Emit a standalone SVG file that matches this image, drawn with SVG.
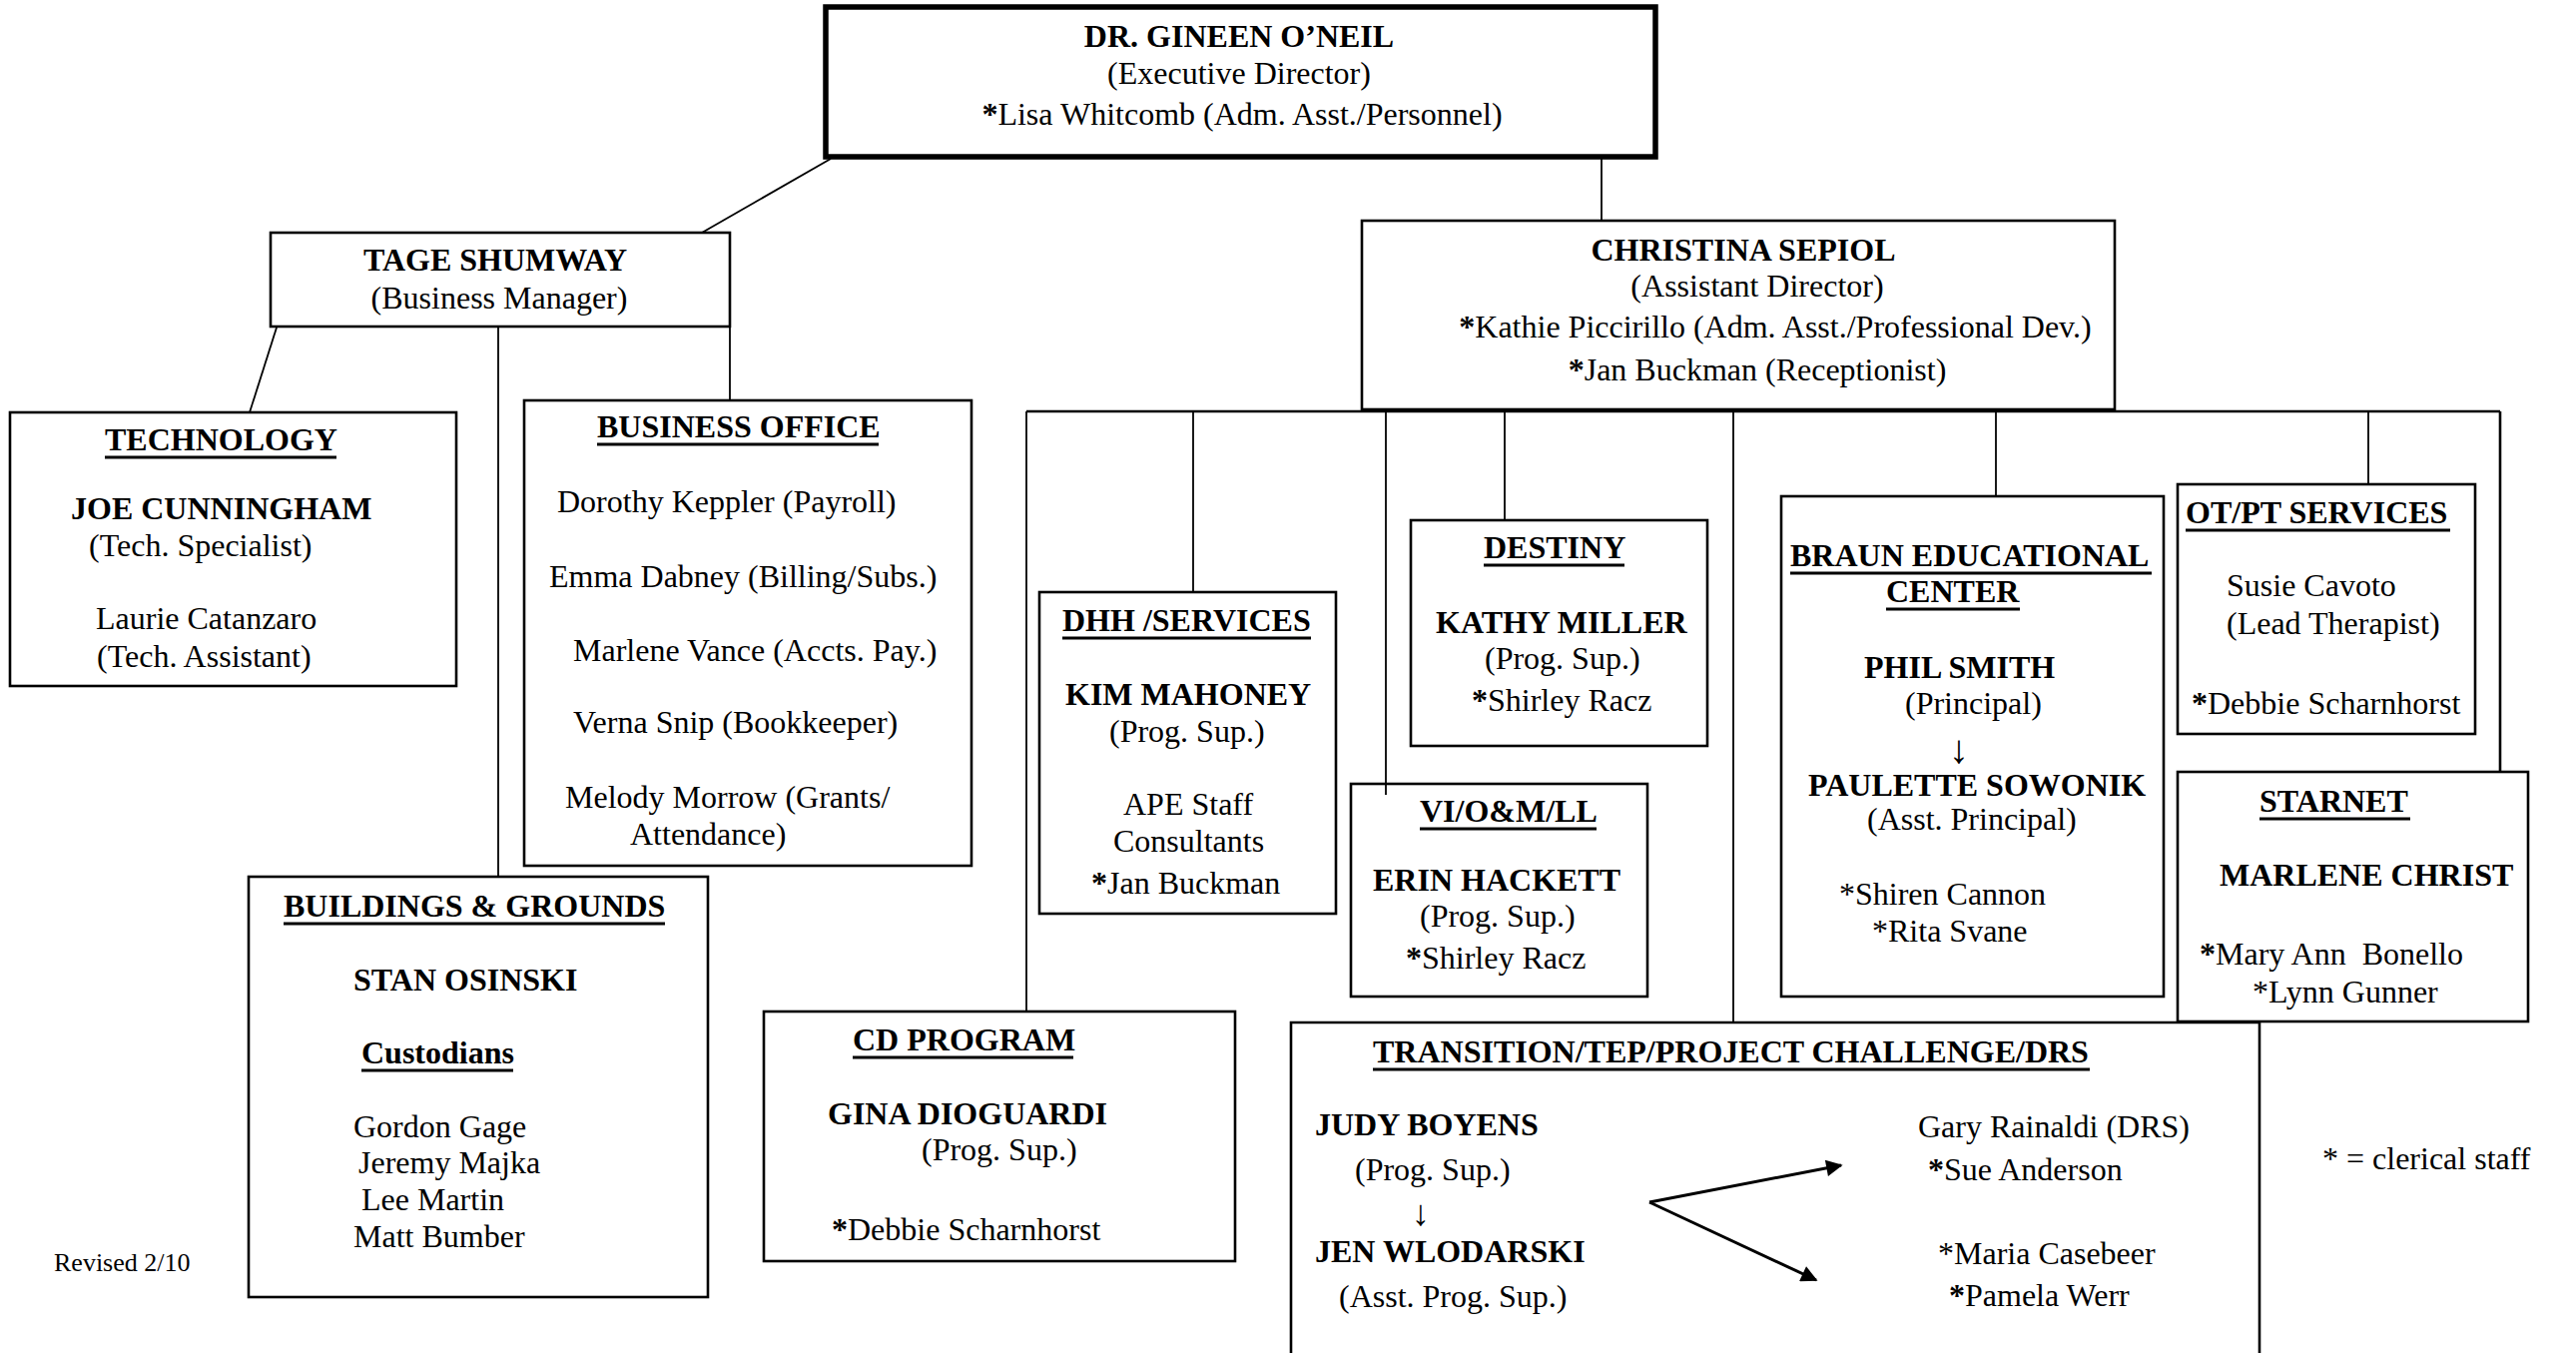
<svg xmlns="http://www.w3.org/2000/svg" width="2580" height="1355" viewBox="0 0 2580 1355">
<style>
.box{fill:none;stroke:#000;stroke-width:2.6}
.top{fill:none;stroke:#000;stroke-width:5.5}
.ln{fill:none;stroke:#000;stroke-width:1.8}
.ar{fill:none;stroke:#000;stroke-width:3}
.ul{stroke:#000;stroke-width:3}
text{font-family:"Liberation Serif","Times New Roman",serif;font-size:32px;fill:#000}
.b{font-weight:bold}
.c{text-anchor:middle}
.sm{font-size:26px}
.dn{font-size:40px}
.dn2{font-size:36px}
</style>
<defs>
<marker id="ah" viewBox="0 0 10 10" refX="9" refY="5" markerWidth="8" markerHeight="5.5" orient="auto" markerUnits="strokeWidth">
<path d="M0,0 L10,5 L0,10 z" fill="#000"/>
</marker>
</defs>
<rect width="2580" height="1355" fill="#fff"/>

<g id="connectors">
<line class="ln" x1="832" y1="159" x2="703" y2="233"/>
<line class="ln" x1="1604" y1="157" x2="1604" y2="221"/>
<line class="ln" x1="277" y1="328" x2="250" y2="413"/>
<line class="ln" x1="499" y1="327" x2="499" y2="878"/>
<line class="ln" x1="731" y1="327" x2="731" y2="401"/>
<line class="box" x1="1028" y1="412" x2="2504" y2="412"/>
<line class="ln" x1="1028" y1="412" x2="1028" y2="1013"/>
<line class="ln" x1="1195" y1="412" x2="1195" y2="593"/>
<line class="ln" x1="1388" y1="412" x2="1388" y2="796"/>
<line class="ln" x1="1507" y1="412" x2="1507" y2="521"/>
<line class="ln" x1="1736" y1="412" x2="1736" y2="1024"/>
<line class="ln" x1="1999" y1="412" x2="1999" y2="497"/>
<line class="ln" x1="2372" y1="412" x2="2372" y2="485"/>
<line class="box" x1="2504" y1="412" x2="2504" y2="773"/>
<line class="ar" x1="1652" y1="1204" x2="1844" y2="1167" marker-end="url(#ah)"/>
<line class="ar" x1="1652" y1="1204" x2="1819" y2="1282" marker-end="url(#ah)"/>
</g>

<g id="exec">
<rect class="top" x="827" y="7" width="831" height="150"/>
<text class="b c" x="1241" y="47">DR. GINEEN O’NEIL</text>
<text class="c" x="1241" y="84">(Executive Director)</text>
<text class="c" x="1244" y="125"><tspan class="b">*</tspan>Lisa Whitcomb (Adm. Asst./Personnel)</text>
</g>

<g id="tage">
<rect class="box" x="271" y="233" width="460" height="94"/>
<text class="b c" x="496" y="271">TAGE SHUMWAY</text>
<text class="c" x="500" y="309">(Business Manager)</text>
</g>

<g id="christina">
<rect class="box" x="1364" y="221" width="754" height="189"/>
<text class="b c" x="1746" y="261">CHRISTINA SEPIOL</text>
<text class="c" x="1760" y="297">(Assistant Director)</text>
<text class="c" x="1778" y="338"><tspan class="b">*</tspan>Kathie Piccirillo (Adm. Asst./Professional Dev.)</text>
<text class="c" x="1760" y="381"><tspan class="b">*</tspan>Jan Buckman (Receptionist)</text>
</g>

<g id="technology">
<rect class="box" x="10" y="413" width="447" height="274"/>
<text class="b" x="105" y="451">TECHNOLOGY</text>
<line class="ul" x1="105" y1="458" x2="337" y2="458"/>
<text class="b" x="71" y="520">JOE CUNNINGHAM</text>
<text x="89" y="557">(Tech. Specialist)</text>
<text x="96" y="630">Laurie Catanzaro</text>
<text x="97" y="668">(Tech. Assistant)</text>
</g>

<g id="business-office">
<rect class="box" x="525" y="401" width="448" height="466"/>
<text class="b" x="598" y="438">BUSINESS OFFICE</text>
<line class="ul" x1="598" y1="445" x2="880" y2="445"/>
<text x="558" y="513">Dorothy Keppler (Payroll)</text>
<text x="550" y="588">Emma Dabney (Billing/Subs.)</text>
<text x="574" y="662">Marlene Vance (Accts. Pay.)</text>
<text x="574" y="734">Verna Snip (Bookkeeper)</text>
<text x="566" y="809">Melody Morrow (Grants/</text>
<text x="631" y="846">Attendance)</text>
</g>

<g id="buildings">
<rect class="box" x="249" y="878" width="460" height="421"/>
<text class="b" x="284" y="918">BUILDINGS &amp; GROUNDS</text>
<line class="ul" x1="284" y1="925" x2="666" y2="925"/>
<text class="b" x="354" y="992">STAN OSINSKI</text>
<text class="b" x="362" y="1065">Custodians</text>
<line class="ul" x1="362" y1="1072" x2="514" y2="1072"/>
<text x="354" y="1139">Gordon Gage</text>
<text x="359" y="1175">Jeremy Majka</text>
<text x="362" y="1212">Lee Martin</text>
<text x="354" y="1249">Matt Bumber</text>
</g>

<text class="sm" x="54" y="1273">Revised 2/10</text>

<g id="cd-program">
<rect class="box" x="765" y="1013" width="472" height="250"/>
<text class="b" x="854" y="1052">CD PROGRAM</text>
<line class="ul" x1="854" y1="1059" x2="1075" y2="1059"/>
<text class="b" x="829" y="1126">GINA DIOGUARDI</text>
<text x="923" y="1162">(Prog. Sup.)</text>
<text x="833" y="1242"><tspan class="b">*</tspan>Debbie Scharnhorst</text>
</g>

<g id="dhh">
<rect class="box" x="1041" y="593" width="297" height="322"/>
<text class="b" x="1064" y="632">DHH /SERVICES</text>
<line class="ul" x1="1064" y1="639" x2="1313" y2="639"/>
<text class="b" x="1067" y="706">KIM MAHONEY</text>
<text x="1111" y="743">(Prog. Sup.)</text>
<text x="1125" y="816">APE Staff</text>
<text x="1115" y="853">Consultants</text>
<text x="1093" y="895"><tspan class="b">*</tspan>Jan Buckman</text>
</g>

<g id="destiny">
<rect class="box" x="1413" y="521" width="297" height="226"/>
<text class="b" x="1486" y="559">DESTINY</text>
<line class="ul" x1="1486" y1="566" x2="1627" y2="566"/>
<text class="b" x="1438" y="634">KATHY MILLER</text>
<text x="1487" y="670">(Prog. Sup.)</text>
<text x="1474" y="712"><tspan class="b">*</tspan>Shirley Racz</text>
</g>

<g id="vi">
<rect class="box" x="1353" y="785" width="297" height="213"/>
<text class="b" x="1422" y="823">VI/O&amp;M/LL</text>
<line class="ul" x1="1422" y1="830" x2="1599" y2="830"/>
<text class="b" x="1375" y="892">ERIN HACKETT</text>
<text x="1422" y="928">(Prog. Sup.)</text>
<text x="1408" y="970"><tspan class="b">*</tspan>Shirley Racz</text>
</g>

<g id="braun">
<rect class="box" x="1784" y="497" width="383" height="501"/>
<text class="b" x="1793" y="567">BRAUN EDUCATIONAL</text>
<line class="ul" x1="1793" y1="574" x2="2155" y2="574"/>
<text class="b" x="1889" y="603">CENTER</text>
<line class="ul" x1="1889" y1="610" x2="2023" y2="610"/>
<text class="b" x="1867" y="679">PHIL SMITH</text>
<text x="1908" y="715">(Principal)</text>
<text class="c dn" x="1962" y="764">↓</text>
<text class="b" x="1811" y="797">PAULETTE SOWONIK</text>
<text x="1870" y="831">(Asst. Principal)</text>
<text x="1842" y="906">*Shiren Cannon</text>
<text x="1875" y="943">*Rita Svane</text>
</g>

<g id="otpt">
<rect class="box" x="2181" y="485" width="298" height="250"/>
<text class="b" x="2189" y="524">OT/PT SERVICES</text>
<line class="ul" x1="2189" y1="531" x2="2454" y2="531"/>
<text x="2230" y="597">Susie Cavoto</text>
<text x="2230" y="635">(Lead Therapist)</text>
<text x="2195" y="715"><tspan class="b">*</tspan>Debbie Scharnhorst</text>
</g>

<g id="starnet">
<rect class="box" x="2181" y="773" width="351" height="250"/>
<text class="b" x="2263" y="813">STARNET</text>
<line class="ul" x1="2263" y1="820" x2="2414" y2="820"/>
<text class="b" x="2223" y="887">MARLENE CHRIST</text>
<text x="2203" y="966" xml:space="preserve"><tspan class="b">*</tspan>Mary Ann  Bonello</text>
<text x="2256" y="1004">*Lynn Gunner</text>
</g>

<g id="transition">
<path class="box" d="M1293,1360 V1024 H2263 V1360"/>
<text class="b" x="1375" y="1064">TRANSITION/TEP/PROJECT CHALLENGE/DRS</text>
<line class="ul" x1="1375" y1="1071" x2="2093" y2="1071"/>
<text class="b" x="1317" y="1137">JUDY BOYENS</text>
<text x="1357" y="1182">(Prog. Sup.)</text>
<text class="c dn2" x="1423" y="1227">↓</text>
<text class="b" x="1317" y="1264">JEN WLODARSKI</text>
<text x="1341" y="1309">(Asst. Prog. Sup.)</text>
<text x="1921" y="1139">Gary Rainaldi (DRS)</text>
<text x="1931" y="1182"><tspan class="b">*</tspan>Sue Anderson</text>
<text x="1941" y="1266">*Maria Casebeer</text>
<text x="1952" y="1308"><tspan class="b">*</tspan>Pamela Werr</text>
</g>

<text x="2326" y="1171">* = clerical staff</text>
</svg>
